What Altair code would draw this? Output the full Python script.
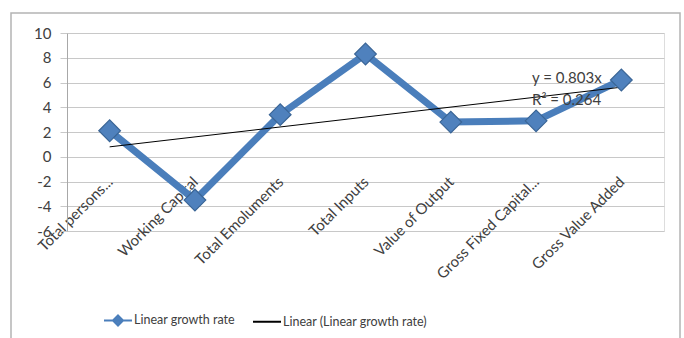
import altair as alt
import pandas as pd

categories = ["Total persons...", "Working Capital", "Total Emoluments", "Total Inputs",
              "Value of Output", "Gross Fixed Capital...", "Gross Value Added"]
growth = [2.1, -3.5, 3.4, 8.3, 2.8, 2.9, 6.2]

trend_categories = ["Total persons...", "Gross Value Added"]
trend_values = [0.80, 5.62]

series_names = ["Linear growth rate", "Linear (Linear growth rate)"]
y_ticks = [-6, -4, -2, 0, 2, 4, 6, 8, 10]

eq_labels = ["y = 0.803x", "R² = 0.264"]
eq_values = [6.4, 4.6]
eq_category = ["Gross Fixed Capital...", "Gross Fixed Capital..."]

FONT = "Lato"
BLUE = "#4A7EBB"
LABEL = "#404040"
GRID = "#C8C8C8"

main_df = pd.DataFrame({"category": categories, "value": growth, "series": series_names[0]})
trend_df = pd.DataFrame({"category": trend_categories, "value": trend_values, "series": series_names[1]})
eq_df = pd.DataFrame({"category": eq_category, "value": eq_values, "label": eq_labels})

x_enc = alt.X("category:N", sort=categories,
              scale=alt.Scale(type="point", domain=categories, padding=0.5),
              axis=alt.Axis(title=None, labelAngle=-45, labelAlign="right", labelBaseline="middle",
                            labelFontSize=15, labelColor=LABEL, labelFont=FONT, ticks=False,
                            domain=False, grid=False, labelPadding=21, labelOverlap=False,
                            offset=-73))
y_enc = alt.Y("value:Q", scale=alt.Scale(domain=[-6, 10], nice=False, zero=False),
              axis=alt.Axis(title=None, values=y_ticks, tickCount=9, grid=True, gridColor=GRID,
                            gridWidth=1, domain=True, domainColor="#A8A8A8", tickSize=7,
                            tickColor=GRID, labelFontSize=15, labelColor=LABEL, labelFont=FONT,
                            labelPadding=9, labelOverlap=False,
                            labelExpr="replace(datum.label, '\u2212', '-')"))

frame = alt.Chart(main_df).mark_rect(fill=None, stroke="#B4B4B4", strokeWidth=1.5, clip=False).encode(
    x=alt.value(-56), x2=alt.value(613), y=alt.value(-20), y2=alt.value(320)
).transform_filter(alt.datum.category == categories[0])

line = alt.Chart(main_df).mark_line(color=BLUE, strokeWidth=7, strokeJoin="miter").encode(
    x=x_enc, y=y_enc
)
pts = alt.Chart(main_df).mark_point(shape="diamond", filled=True, size=470, fill="#4F81BD",
                                    stroke="#3A6596", strokeWidth=1.2, opacity=1).encode(
    x=x_enc, y=y_enc
)
trend = alt.Chart(trend_df).mark_line(color="#000000", strokeWidth=1).encode(
    x=x_enc, y=y_enc
)
eq = alt.Chart(eq_df).mark_text(align="left", baseline="middle", font=FONT, fontSize=15,
                                color=LABEL, dx=-4).encode(
    x=x_enc, y=y_enc, text="label:N"
)

path_a = "M-1,0L1,0M0,-0.36L0.36,0L0,0.36L-0.36,0Z"
path_b = "M-1,0L1,0"
leg = dict(title=None, orient="none", legendX=36, legendY=272, direction="horizontal",
           columns=2, columnPadding=14, labelFontSize=12.5, labelColor=LABEL, labelFont=FONT,
           symbolSize=784, symbolOpacity=1, symbolStrokeWidth=2, labelOffset=1)
legend_layer = alt.Chart(main_df).mark_point(filled=False, opacity=0).encode(
    x=x_enc, y=y_enc,
    stroke=alt.Stroke("series:N", scale=alt.Scale(domain=series_names, range=[BLUE, "#000000"]),
                      legend=alt.Legend(**leg)),
    fill=alt.Fill("series:N", scale=alt.Scale(domain=series_names, range=["#4F81BD", "#FFFFFF"]),
                  legend=alt.Legend(**leg)),
    shape=alt.Shape("series:N", scale=alt.Scale(domain=series_names, range=[path_a, path_b]),
                    legend=alt.Legend(**leg)),
)

chart = alt.layer(frame, line, trend, eq, pts, legend_layer).properties(
    width=597, height=198,
    autosize=alt.AutoSizeParams(type="none"),
    padding={"left": 67, "top": 33, "right": 20, "bottom": 107},
    background="white",
).configure_view(stroke=None).configure(font=FONT)

chart.save("out.html", embed_options={"renderer": "svg", "actions": False})
